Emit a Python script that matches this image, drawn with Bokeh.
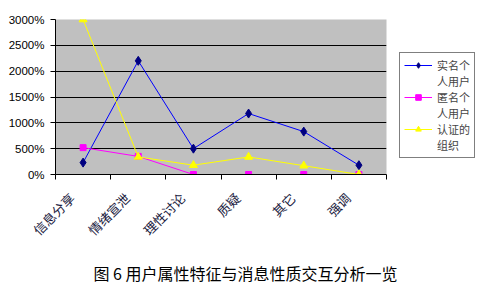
import math
from bokeh.plotting import figure
from bokeh.models import (FixedTicker, PrintfTickFormatter, Range1d, Legend, LegendItem, Title)
from bokeh.embed import file_html
from bokeh.resources import INLINE

categories = ["信息分享", "情绪宣泄", "理性讨论", "质疑", "其它", "强调"]
real_name = [230, 2200, 500, 1180, 830, 180]
anonymous = [520, 350, 0, 0, 0, 0]
certified = [3000, 340, 180, 340, 170, 0]
series_names = ["实名个\n人用户", "匿名个\n人用户", "认证的\n组织"]
y_ticks = [0, 500, 1000, 1500, 2000, 2500, 3000]
title_text = "图 6 用户属性特征与消息性质交互分析一览"

xs = list(range(1, len(categories) + 1))
label_shift = 0.2
label_pos = [round(x - label_shift, 2) for x in xs]

p = figure(frame_width=331, frame_height=155, output_backend="svg", toolbar_location=None,
           x_range=Range1d(0.5, len(categories) + 0.5), y_range=Range1d(0, 3000),
           min_border_left=55, min_border_right=93, min_border_top=19, min_border_bottom=120)
p.border_fill_color = "white"
p.background_fill_color = "#C0C0C0"
p.outline_line_color = None

# y axis
p.yaxis.ticker = FixedTicker(ticks=y_ticks)
p.yaxis.formatter = PrintfTickFormatter(format="%d%%")
p.yaxis.major_label_text_font = "Liberation Sans"
p.yaxis.major_label_text_font_size = "11.5px"
p.yaxis.major_label_text_color = "black"
p.yaxis.axis_line_color = "black"
p.yaxis.major_tick_line_color = "black"
p.yaxis.major_tick_in = 0
p.yaxis.major_tick_out = 5
p.yaxis.minor_tick_line_color = None
p.yaxis.major_label_standoff = 6

# x axis
p.xaxis.ticker = FixedTicker(ticks=label_pos, minor_ticks=[x - 0.5 for x in xs] + [xs[-1] + 0.5])
p.xaxis.major_label_overrides = {lp: c for lp, c in zip(label_pos, categories)}
p.xaxis.major_label_orientation = math.pi / 4
p.xaxis.major_label_text_font = "Noto Sans CJK SC"
p.xaxis.major_label_text_font_size = "13px"
p.xaxis.major_label_text_color = "#1a1a40"
p.xaxis.major_tick_line_color = None
p.xaxis.major_tick_out = 0
p.xaxis.major_tick_in = 0
p.xaxis.minor_tick_line_color = "black"
p.xaxis.minor_tick_in = 0
p.xaxis.minor_tick_out = 5
p.xaxis.axis_line_color = "black"
p.xaxis.major_label_standoff = 16

# grid
p.xgrid.grid_line_color = None
p.ygrid.ticker = FixedTicker(ticks=y_ticks[1:-1])
p.ygrid.grid_line_color = "black"
p.ygrid.grid_line_width = 1

r1l = p.line(xs, real_name, line_color="#0000FF", line_width=1)
r1m = p.scatter(xs, real_name, marker="diamond", size=9, fill_color="#000080", line_color="#000080")
r2l = p.line(xs, anonymous, line_color="#FF00FF", line_width=1)
r2m = p.scatter(xs, anonymous, marker="square", size=6, fill_color="#FF00FF", line_color="#FF00FF")
r3l = p.line(xs, certified, line_color="#FFFF00", line_width=1)
r3m = p.scatter(xs, certified, marker="triangle", size=8, fill_color="#FFFF00", line_color="#FFFF00")

items = []
for name, rends in zip(series_names, [[r1l, r1m], [r2l, r2m], [r3l, r3m]]):
    first, second = name.split("\n")
    items.append(LegendItem(label=first, renderers=rends))
    items.append(LegendItem(label=second, renderers=[]))

legend = Legend(items=items, location=(13, 16))
legend.label_text_font = "Noto Sans CJK SC"
legend.label_text_font_size = "11px"
legend.glyph_width = 28
legend.glyph_height = 14
legend.label_height = 14
legend.spacing = 0
legend.padding = 4
legend.margin = 0
legend.border_line_color = "black"
legend.border_line_width = 1
legend.background_fill_color = "white"
legend.background_fill_alpha = 1
legend.label_standoff = 5
p.add_layout(legend, "right")

title = Title(text=title_text, align="left", text_font="Noto Sans CJK SC",
              text_font_size="16px", text_font_style="normal", text_color="black",
              offset=38, standoff=20)
p.add_layout(title, "below")

open("out.html", "w").write(file_html(p, INLINE))
